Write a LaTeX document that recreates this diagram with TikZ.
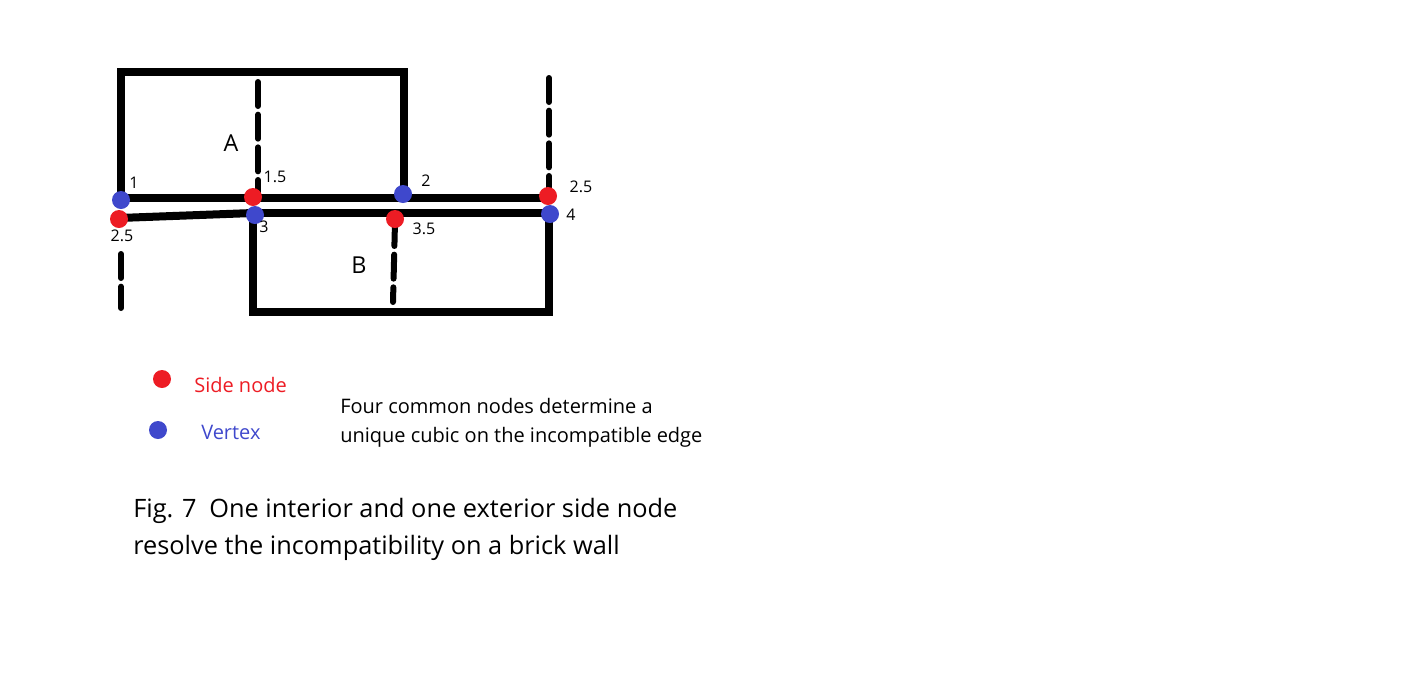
\documentclass[tikz,border=0pt]{standalone}
\usepackage{fontspec}
\setmainfont{Open Sans}
\usepackage{xcolor}
\usetikzlibrary{positioning}

\definecolor{sidered}{HTML}{ED1C24}
\definecolor{vertblue}{HTML}{3F48CC}

\begin{document}
\begin{tikzpicture}[
    x=0.75pt, y=-0.75pt,
    wall/.style={line width=6pt, line join=miter},
    dashwall/.style={line width=4.5pt, line cap=round, dash pattern=on 18pt off 6.5pt},
    sidenode/.style={circle, fill=sidered, inner sep=0pt, minimum size=13.5pt},
    vertex/.style={circle, fill=vertblue, inner sep=0pt, minimum size=13.5pt},
    numlab/.style={font=\fontsize{12}{14}\selectfont, inner sep=1pt},
    bricklab/.style={font=\fontsize{17.5}{20}\selectfont},
    note/.style={font=\fontsize{15}{21.75}\selectfont, align=left, anchor=north west, inner sep=0pt}
]
\useasboundingbox (0,0) rectangle (1416,672);

% Brick A (top) and brick B (bottom)
\coordinate (aTL) at (121,72);
\coordinate (aTR) at (404,72);
\coordinate (aBL) at (121,198);
\coordinate (aBR) at (404,198);
\coordinate (topEnd) at (549,198);
\coordinate (lowStart) at (119,218);
\coordinate (bTL) at (253,213);
\coordinate (bTR) at (549,213);
\coordinate (bBL) at (253,312);
\coordinate (bBR) at (549,312);

% Ends of the dashed walls
\coordinate (dAtop) at (258,82);
\coordinate (dAbot) at (258,196);
\coordinate (dRtop) at (549,78);
\coordinate (dRbot) at (549,194);
\coordinate (dLtop) at (121,254);
\coordinate (dLbot) at (121,308);
\coordinate (dBtop) at (395,222);
\coordinate (dBbot) at (393,302);

% Solid walls
\draw[wall] (aBL) -- (aTL) -- (aTR) -- (aBR);
\draw[wall] (aBL) -- (topEnd);
\draw[wall] (lowStart) -- (bTL);
\draw[wall] (bTL) -- (bBL) -- (bBR) -- (bTR) -- cycle;

% Dashed walls
\draw[dashwall] (dAtop) -- (dAbot);
\draw[dashwall] (dRtop) -- (dRbot);
\draw[dashwall] (dLtop) -- (dLbot);
\draw[dashwall] (dBtop) -- (dBbot);

% Vertices and side nodes
\node[vertex] (v1) at (121,200) {};
\node[sidenode] (s25l) at (119,219) {};
\node[sidenode] (s15) at (253,197) {};
\node[vertex] (v3) at (255,215) {};
\node[vertex] (v2) at (403,194) {};
\node[sidenode] (s35) at (395,219) {};
\node[sidenode] (s25r) at (548,196) {};
\node[vertex] (v4) at (550,214) {};

% Numbers
\node[numlab] (l1) at (134,183) {1};
\node[numlab] (l15) at (275,177) {1.5};
\node[numlab] (l2) at (426,181) {2};
\node[numlab] (l25r) at (581,187) {2.5};
\node[numlab] (l25l) at (122,236) {2.5};
\node[numlab] (l3) at (264,227) {3};
\node[numlab] (l35) at (424,229) {3.5};
\node[numlab] (l4) at (571,215) {4};

% Brick names
\node[bricklab] (nA) at (231,143) {A};
\node[bricklab] (nB) at (359,265) {B};

% Legend
\node[sidenode] (keyred) at (162,379) {};
\node[note, anchor=west, text=sidered] (keyredtxt) at (194,385) {Side node};
\node[vertex] (keyblue) at (158,430) {};
\node[note, anchor=west, text=vertblue] (keybluetxt) at (201,432) {Vertex};

% Remark and caption
\node[note] (remark) at (340,398) {Four common nodes determine a\\unique cubic on the incompatible edge};
\node[note, font=\fontsize{19}{28}\selectfont] (caption) at (133,498) {Fig. 7\enspace One interior and one exterior side node\\resolve the incompatibility on a brick wall};
\end{tikzpicture}
\end{document}
